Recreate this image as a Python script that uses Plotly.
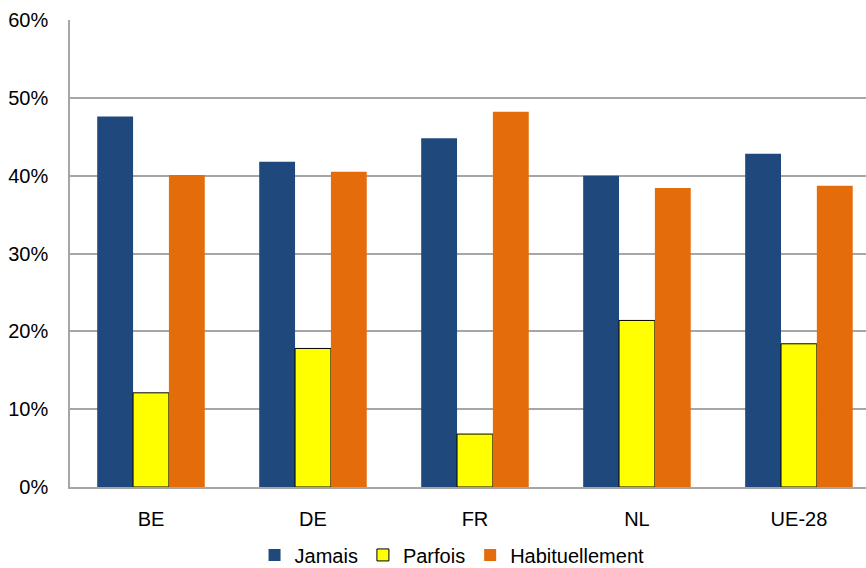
import plotly.graph_objects as go

categories = ["BE", "DE", "FR", "NL", "UE-28"]
jamais = [47.6, 41.8, 44.8, 40.0, 42.8]
parfois = [12.1, 17.8, 6.8, 21.4, 18.4]
habituellement = [40.1, 40.5, 48.2, 38.4, 38.7]
y_ticks = [0, 10, 20, 30, 40, 50, 60]

FONT = "Liberation Sans, Arial, sans-serif"

fig = go.Figure()
fig.add_trace(go.Bar(
    name="Jamais", x=categories, y=jamais,
    marker=dict(color="#1F497D", line=dict(width=0)),
))
fig.add_trace(go.Bar(
    name="Parfois", x=categories, y=parfois,
    marker=dict(color="#FFFF00", line=dict(color="#000000", width=1)),
))
fig.add_trace(go.Bar(
    name="Habituellement", x=categories, y=habituellement,
    marker=dict(color="#E46C0A", line=dict(width=0)),
))

fig.update_layout(
    width=866, height=568,
    margin=dict(l=70, r=0, t=20, b=81),
    paper_bgcolor="white", plot_bgcolor="white",
    barmode="group", bargap=0.336, bargroupgap=0,
    font=dict(family=FONT, size=20, color="#000000"),
    showlegend=True,
    legend=dict(
        orientation="h", xref="container", yref="container",
        x=0.522, xanchor="center", y=0.023, yanchor="middle",
        font=dict(size=20), itemwidth=30, tracegroupgap=0,
        bgcolor="rgba(0,0,0,0)",
    ),
)
fig.update_xaxes(
    range=[-0.5, 4.414], showgrid=False, showline=True,
    linecolor="#A6A6A6", linewidth=1.5, ticks="",
    ticklabelstandoff=13, tickfont=dict(size=20), automargin=False,
)
fig.update_yaxes(
    range=[0, 60], tickvals=y_ticks, ticktext=[f"{v}%" for v in y_ticks],
    showgrid=True, gridcolor="#A6A6A6", gridwidth=1.5,
    showline=True, linecolor="#A6A6A6", linewidth=1.5, ticks="",
    ticklabelstandoff=16, tickfont=dict(size=20), zeroline=False,
    automargin=False,
)

fig.write_html("out.html")
